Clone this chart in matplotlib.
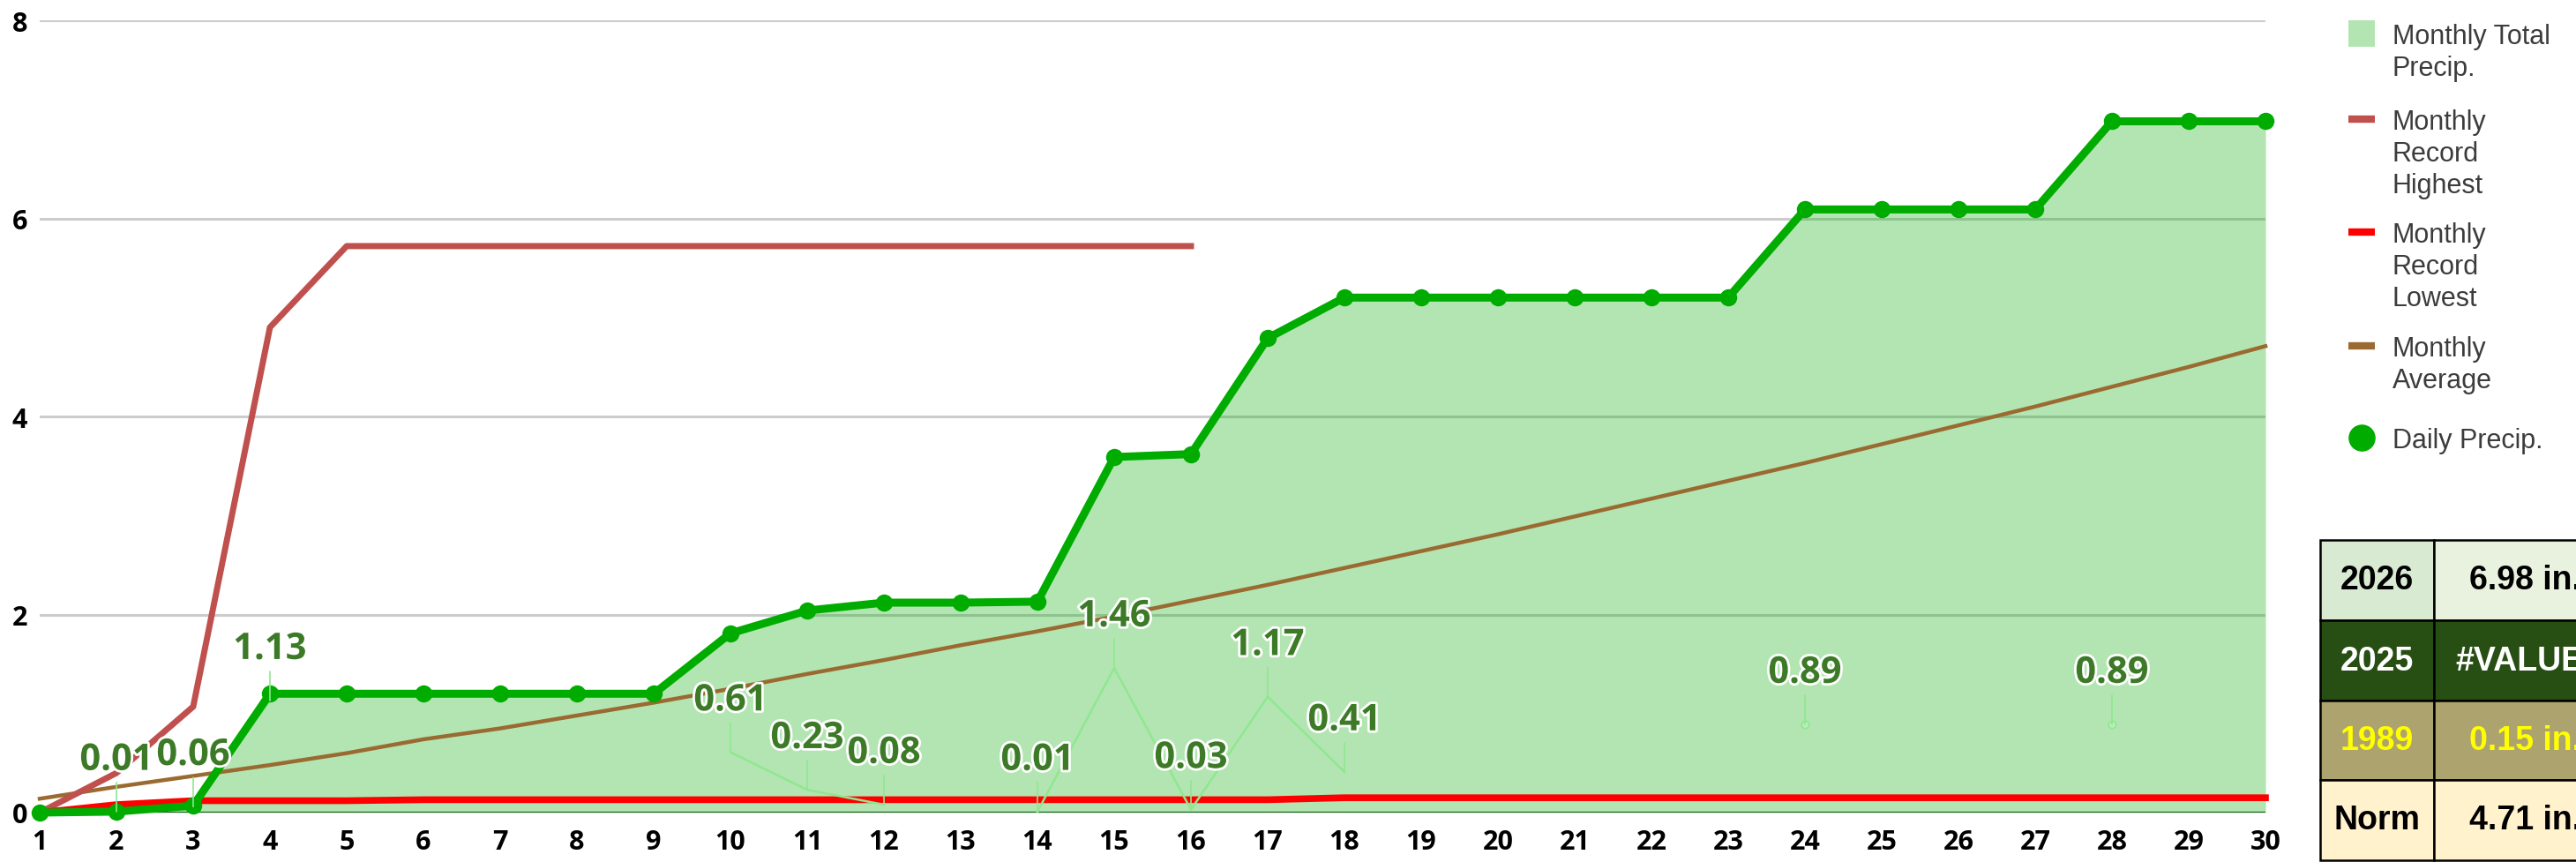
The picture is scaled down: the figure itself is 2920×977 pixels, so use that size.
import numpy as np
import matplotlib
matplotlib.use("Agg")
import matplotlib.pyplot as plt
from matplotlib.patches import Rectangle
from matplotlib.lines import Line2D
import matplotlib.patheffects as pe

nan = np.nan

days = list(range(1, 31))

# running total of the month (in.)
monthly_total = [0.00, 0.01, 0.07, 1.20, 1.20, 1.20, 1.20, 1.20, 1.20, 1.81,
                 2.04, 2.12, 2.12, 2.13, 3.59, 3.62, 4.79, 5.20, 5.20, 5.20,
                 5.20, 5.20, 5.20, 6.09, 6.09, 6.09, 6.09, 6.98, 6.98, 6.98]

# rain that fell on each day (blank = no rain)
daily_precip = [nan, 0.01, 0.06, 1.13, nan, nan, nan, nan, nan, 0.61,
                0.23, 0.08, nan, 0.01, 1.46, 0.03, 1.17, 0.41, nan, nan,
                nan, nan, nan, 0.89, nan, nan, nan, 0.89, nan, nan]

record_high = [0.00, 0.40, 1.07, 4.90, 5.72, 5.72, 5.72, 5.72, 5.72, 5.72,
               5.72, 5.72, 5.72, 5.72, 5.72, 5.72, nan, nan, nan, nan,
               nan, nan, nan, nan, nan, nan, nan, nan, nan, nan]

record_low = [0.00, 0.08, 0.12, 0.12, 0.12, 0.13, 0.13, 0.13, 0.13, 0.13,
              0.13, 0.13, 0.13, 0.13, 0.13, 0.13, 0.13, 0.15, 0.15, 0.15,
              0.15, 0.15, 0.15, 0.15, 0.15, 0.15, 0.15, 0.15, 0.15, 0.15]

monthly_avg = [0.14, 0.26, 0.37, 0.48, 0.60, 0.74, 0.85, 0.98, 1.11, 1.25,
               1.40, 1.54, 1.69, 1.83, 1.98, 2.14, 2.30, 2.47, 2.64, 2.81,
               2.99, 3.17, 3.35, 3.53, 3.72, 3.91, 4.10, 4.30, 4.50, 4.71]

yticks = [0, 2, 4, 6, 8]

legend_labels = ["Monthly Total\nPrecip.", "Monthly\nRecord\nHighest",
                 "Monthly\nRecord\nLowest", "Monthly\nAverage", "Daily Precip."]

table_years = ["2026", "2025", "1989", "Norm"]
table_values = ["6.98 in.", "#VALUE!", "0.15 in.", "4.71 in."]

GREEN = "#00ac00"
HIGH = "#c0504d"
LOW = "#ff0000"
AVG = "#9a6a30"
DAILY = "#8fe88f"
LABEL = "#3d7a27"

W, H = 2920, 978
fig = plt.figure(figsize=(W / 100, H / 100), dpi=100)
ax = fig.add_axes([45 / W, 1 - 922 / H, (2568 - 45) / W, (922 - 24) / H])

x = np.array(days)
total = np.array(monthly_total)
daily = np.array(daily_precip)

ax.set_xlim(1, 30)
ax.set_ylim(0, 8)
for s in ax.spines.values():
    s.set_visible(False)
ax.set_yticks(yticks)
ax.set_xticks(days)
ax.grid(axis="y", color="#cccccc", lw=2.2, zorder=0)
ax.set_axisbelow(True)
ax.axhline(0, color="#2f3a2f", lw=1.6, zorder=1)

ax.fill_between(x, total, 0, color=GREEN, alpha=0.3, lw=0, zorder=2)

ax.plot(x, monthly_avg, color=AVG, lw=3.2, zorder=3, clip_on=False)
ax.plot(x, record_high, color=HIGH, lw=5, zorder=3, clip_on=False)
ax.plot(x, record_low, color=LOW, lw=5.5, zorder=3, clip_on=False)

# daily series: thin pale line, dots only where a rain day stands alone
ax.plot(x, daily, color=DAILY, lw=1.8, zorder=4)
lone = []
for i, v in enumerate(daily):
    left = daily[i - 1] if i > 0 else nan
    right = daily[i + 1] if i < len(daily) - 1 else nan
    if not np.isnan(v) and np.isnan(left) and np.isnan(right):
        lone.append(i)
ax.plot(x[lone], daily[lone], "o", ms=6, mfc="#b8f0b8", mec=DAILY, mew=1.2, zorder=4)

ax.plot(x, total, color=GREEN, lw=6.5, marker="o", ms=13, zorder=5, clip_on=False)

for d, v in zip(x, daily):
    if np.isnan(v):
        continue
    ax.annotate(f"{v:.2f}", xy=(d, v), xytext=(0, 34), textcoords="offset points",
                ha="center", va="baseline", fontsize=30, fontweight="bold",
                family="Open Sans", color=LABEL, zorder=8,
                path_effects=[pe.withStroke(linewidth=4, foreground="white")],
                arrowprops=dict(arrowstyle="-", color=DAILY, lw=1.2,
                                relpos=(0.5, 0), shrinkA=1, shrinkB=0))

ax.tick_params(length=0, labelsize=22, colors="black")
ax.tick_params(axis="x", pad=13)
ax.tick_params(axis="y", pad=10)
for t in ax.get_xticklabels() + ax.get_yticklabels():
    t.set_family("Open Sans")
    t.set_fontweight("bold")

# overlay in pixel units for the legend and the summary table
lax = fig.add_axes([0, 0, 1, 1])
lax.set_xlim(0, W)
lax.set_ylim(H, 0)
lax.axis("off")
lax.patch.set_visible(False)

item_y = [39, 136, 264, 393, 497]
lax.add_patch(Rectangle((2662, item_y[0] - 15), 30, 30, color=GREEN, alpha=0.3, lw=0))
for yy, c in zip(item_y[1:4], [HIGH, LOW, AVG]):
    lax.add_line(Line2D([2662, 2692], [yy, yy], color=c, lw=6, solid_capstyle="butt"))
lax.plot([2677], [item_y[4]], "o", ms=21, color=GREEN)
for yy, lab in zip(item_y, legend_labels):
    lax.text(2712, yy - 12, lab, ha="left", va="top", fontsize=22,
             family="Liberation Sans", color="#3c3c3c", linespacing=1.26)

rows = [613, 704, 795, 885, 976]
cols = [2630, 2759, 2966]
cell_bg = [("#d9ead3", "#e8f2df"), ("#274e13", "#274e13"),
           ("#aca36f", "#aca36f"), ("#fff2cc", "#fff2cc")]
txt_col = ["black", "white", "#ffff00", "black"]
for r in range(4):
    y0, y1 = rows[r], rows[r + 1]
    for c in range(2):
        lax.add_patch(Rectangle((cols[c], y0), cols[c + 1] - cols[c], y1 - y0,
                                facecolor=cell_bg[r][c], edgecolor="black", lw=1.8))
    ym = (y0 + y1) / 2
    lax.text((cols[0] + cols[1]) / 2, ym, table_years[r], ha="center", va="center",
             fontsize=27, fontweight="bold", family="Liberation Sans", color=txt_col[r])
    lax.text((cols[1] + cols[2]) / 2, ym, table_values[r], ha="center", va="center",
             fontsize=27, fontweight="bold", family="Liberation Sans", color=txt_col[r])

fig.savefig("out.png", dpi=100)
